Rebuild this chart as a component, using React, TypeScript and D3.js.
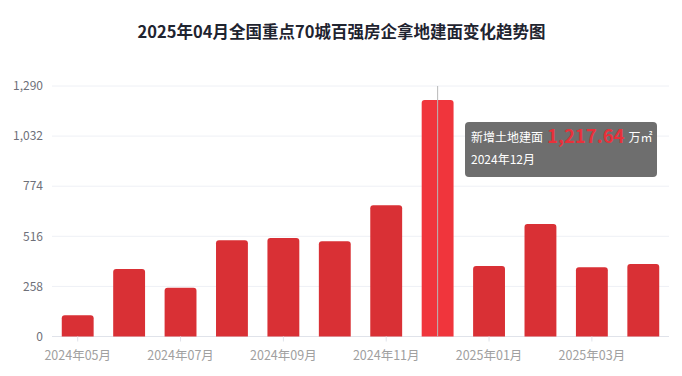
import React from "react";
import * as d3 from "d3";

const categories = ["2024年05月","2024年06月","2024年07月","2024年08月","2024年09月","2024年10月","2024年11月","2024年12月","2025年01月","2025年02月","2025年03月","2025年04月"];
const values = [110, 347, 251, 496, 507, 491, 676, 1217.64, 363, 579, 357, 373];
const yTicks = [0, 258, 516, 774, 1032, 1290];
const title = "2025年04月全国重点70城百强房企拿地建面变化趋势图";
const highlightIndex = 7;

const W = 682, H = 376;
const left = 52, right = 669, top = 86, bottom = 336.5;

function roundTopRect(x: number, y: number, w: number, h: number, r: number) {
  const rr = Math.min(r, h, w / 2);
  return `M${x},${y + h}V${y + rr}Q${x},${y} ${x + rr},${y}H${x + w - rr}Q${x + w},${y} ${x + w},${y + rr}V${y + h}Z`;
}

export default function App() {
  const x = d3.scaleBand<string>().domain(categories).range([left, right]).padding(0);
  const y = d3.scaleLinear().domain([0, 1290]).range([bottom, top]);
  const bw = x.bandwidth() * 0.62;
  const font = "'Noto Sans CJK SC', 'Noto Sans', sans-serif";
  const hx = (x(categories[highlightIndex]) as number) + x.bandwidth() / 2;
  const fmt = d3.format(",");
  return (
    <div style={{ position: "absolute", left: 0, top: 0 }}>
      <svg width={W} height={H} style={{ display: "block", background: "#fff" }}>
        <text x={W / 2 + 0.5} y={38} textAnchor="middle" fontFamily={font} fontSize={16.5} fontWeight={700} fill="#1f2430">{title}</text>
        {yTicks.map((t) => (
          <g key={t}>
            <line x1={left} x2={right} y1={y(t)} y2={y(t)} stroke={t === 0 ? "#e0e3ea" : "#eef0f5"} strokeWidth={1} />
            <text x={43} y={y(t)} dy="0.35em" textAnchor="end" fontFamily={font} fontSize={12} fill="#6e7079">{fmt(t)}</text>
          </g>
        ))}
        {categories.map((c, i) => {
          const cx = (x(c) as number) + x.bandwidth() / 2;
          const v = values[i];
          const yt = y(v);
          return (
            <path key={c} d={roundTopRect(cx - bw / 2, yt, bw, bottom - yt, 3)} fill={i === highlightIndex ? "#f0353c" : "#d93035"} />
          );
        })}
        {categories.map((c, i) => {
          if (i % 2 !== 0) return null;
          const cx = (x(c) as number) + x.bandwidth() / 2;
          return (
            <g key={"t" + c}>
              <line x1={cx} x2={cx} y1={bottom} y2={bottom + 5} stroke="#e0e3ea" />
              <text x={cx} y={356} dy="0.35em" textAnchor="middle" fontFamily={font} fontSize={12.5} fill="#a0a0a0">{c}</text>
            </g>
          );
        })}
        <line x1={hx} x2={hx} y1={top} y2={bottom} stroke="#b8b8b8" strokeWidth={1} />
        <g transform="translate(465,122)">
          <rect x={0} y={0} width={192} height={55} rx={4} fill="#6e6e6e" />
          <text x={6} y={20} fontFamily={font} fontSize={12} fill="#fff">
            新增土地建面
            <tspan dx={4} fontSize={18.5} fontWeight={700} fill="#e8313a" dy={1}>{d3.format(",.2f")(values[highlightIndex])}</tspan>
            <tspan dx={4} fontSize={12} fill="#fff" dy={-1}>万㎡</tspan>
          </text>
          <text x={6} y={42} fontFamily={font} fontSize={12} fill="#fff">{categories[highlightIndex]}</text>
        </g>
      </svg>
    </div>
  );
}
